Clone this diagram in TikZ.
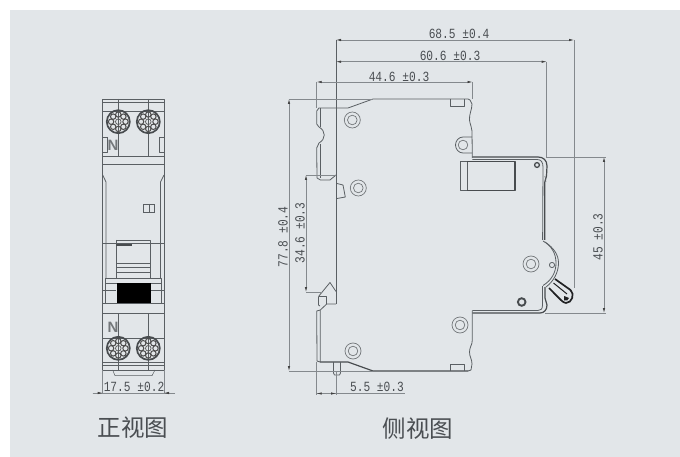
\documentclass[tikz,border=0pt]{standalone}
\usepackage{fontspec}
\usetikzlibrary{arrows.meta}
\newfontfamily\dimf[FakeStretch=0.8]{Liberation Mono}
\definecolor{bgc}{HTML}{E2E6E9}
\definecolor{ink}{HTML}{5A5F63}
\definecolor{dimc}{HTML}{84898D}
\definecolor{txtc}{HTML}{4A4E52}
\tikzset{
 part/.style={draw=ink,line width=0.8pt,line join=round},
 heavy/.style={draw=ink!80!black,line width=1.2pt,line join=round},
 thinp/.style={draw=ink,line width=0.5pt},
 dimline/.style={draw=dimc,line width=0.6pt},
 dimarrow/.style={draw=dimc,line width=0.6pt,{Latex[length=5pt,width=2.4pt,color=black!75]}-{Latex[length=5pt,width=2.4pt,color=black!75]}},
 dimtext/.style={font=\dimf\fontsize{14}{14}\selectfont,text=txtc,inner sep=0pt},
 capt/.style={font=\fontspec{Noto Sans CJK SC}\fontsize{23.5}{24}\selectfont,text=txtc,inner sep=0pt},
 ring/.style={draw=ink!85,line width=0.7pt},
 screw/.pic={
   \draw[draw=ink!80!black,line width=1.7pt] (0,0) circle[radius=11.5];
   \foreach \a in {0,45,...,315}{\draw[draw=black!70,line width=1pt] (\a:7.2) circle[radius=2.7];}
   \draw[draw=black!65,line width=0.7pt] (0,0) circle[radius=2.8];
 },
 boss/.pic={
   \draw[ring] (0,0) circle[radius=8];
   \draw[ring] (0,0) circle[radius=4.8];
 }
}
\begin{document}
\begin{tikzpicture}[x=1pt,y=-1pt]
\useasboundingbox (0,0) rectangle (680,457);
\fill[white] (0,0) rectangle (680,457);
\fill[bgc] (10,10) rectangle (680,457);

% ---------- front view ----------
\draw[part] (102.7,99) rectangle (164,370);
\draw[thinp] (102.7,102.7) -- (164,102.7);
\draw[part] (102.7,111.7) -- (164,111.7);
\draw[part] (102.7,156.7) -- (164,156.7);
\draw[part] (102.7,164) -- (164,164);
\draw[part] (118.3,99) -- (118.3,157);
\draw[part] (148.3,99) -- (148.3,157);
\draw[part] (107.5,137) -- (103,137) (107.5,137) -- (107.5,152) -- (103,152);
\draw[part] (159,137) -- (164,137) (159,137) -- (159,152) -- (164,152);
\draw[part] (102.7,175) -- (106,182) -- (106,278);
\draw[part] (164,175) -- (160.5,182) -- (160.5,278);
\draw[thinp] (143.5,204) rectangle (154.5,212);
\draw[thinp] (149,204) -- (149,212);
\draw[thinp] (102.7,243) -- (164,243);
\draw[part] (116,240) -- (150.7,240) -- (150.7,278);
\draw[part] (116,240) -- (116,278);
\draw[heavy] (116,245) -- (132,245);
\draw[part] (116,263) -- (150.7,263);
\draw[part] (116,267) -- (150.7,267);
\draw[part] (116,272) -- (150.7,272);
\draw[part] (116,278) -- (150.7,278);
\draw[part] (105.5,278) rectangle (161.5,283);
\draw[part] (105.5,283) -- (105.5,303) (161.5,283) -- (161.5,303);
\draw[part] (102.7,290) -- (116,290) (150.7,290) -- (164,290);
\fill[black] (116.7,283) rectangle (150.7,303);
\draw[part] (102.7,303) -- (164,303);
\draw[part] (102.7,313.5) -- (164,313.5);
\draw[part] (118.3,313.5) -- (118.3,370);
\draw[part] (148.3,313.5) -- (148.3,370);
\draw[part] (102.7,338) -- (164,338);
\draw[part] (102.7,362) -- (164,362);
\draw[thinp] (102.7,365) -- (164,365);
\draw[thinp] (112.7,370) -- (115,375.7) -- (152,375.7) -- (155,370);
\pic at (118.3,121.7) {screw};
\pic at (148.3,121.7) {screw};
\pic at (118.3,348.3) {screw};
\pic at (148.3,348.3) {screw};
\node[name=nTop,font=\fontspec{Liberation Sans}\bfseries\fontsize{15}{15}\selectfont,text=ink!85,inner sep=0pt] at (113,145) {N};
\node[name=nBot,font=\fontspec{Liberation Sans}\bfseries\fontsize{15}{15}\selectfont,text=ink!85,inner sep=0pt] at (113,327) {N};
% front dimension
\coordinate (fL) at (102.7,393);
\coordinate (fR) at (164,393);
\draw[dimline] (102.7,370) -- (fL) (164,370) -- (fR);
\draw[dimline] (92.5,393) -- (175,393);
\draw[dimline,-{Latex[length=5pt,width=2.4pt,color=black!75]}] (92.5,393) -- (fL);
\draw[dimline,-{Latex[length=5pt,width=2.4pt,color=black!75]}] (175,393) -- (fR);
\node[dimtext,name=d175] at (134,387) {17.5 ±0.2};
\node[capt,name=capFront] at (133,428) {正视图};

% ---------- side view outline ----------
\draw[part] (336,40) -- (336,304);
% top-left and top
\draw[part] (317,178) -- (316.7,148) -- (319,143) .. controls (326,139) and (326,131) .. (319,127) -- (316.7,124) -- (316.7,111) -- (319,108) -- (348,108) -- (373,99) -- (468,99) -- (470,100) -- (472,104) .. controls (472,110) and (469,114) .. (469.5,120) .. controls (470,125) and (472,127) .. (472,131) -- (472.3,158);
\draw[thinp] (320.3,108) -- (320.3,127) (320.3,144) -- (320.3,178);
\draw[part] (317,178) -- (320.5,180) -- (330,180) -- (336,175);
\draw[part] (450,99) -- (450,106.5) -- (464,106.5) -- (464,99);
% bump
\draw[part] (337,183.5) -- (343,185) -- (345.3,197) -- (337,198.5);
% top of the raised step and handle side
\draw[heavy] (472.3,157) -- (538,157) .. controls (543,157) and (547,160) .. (547,166) -- (546.5,176) -- (544.8,182) -- (544.8,240);
\draw[part] (472.3,159.5) -- (537,159.5) .. controls (541,159.5) and (543,162) .. (543,167) -- (542.6,240);
\draw[thinp] (544.8,176) -- (546,182);
% arc
\draw[part] (543,241) .. controls (552,246) and (556,254) .. (556,263) .. controls (556,272) and (552,280) .. (543,285.5);
\draw[part] (545,242) .. controls (554,248) and (558.5,255) .. (558.5,263) .. controls (558.5,272) and (554,281) .. (546,287);
% lower handle side
\draw[part] (542.5,286) -- (542.5,305) .. controls (542.5,309) and (541,310.5) .. (538,310.5) -- (472.3,310.5);
\draw[heavy] (545,287) -- (545,298) -- (547,305) .. controls (547,310) and (544,313) .. (540,313) -- (472.3,313);
% lower right and bottom
\draw[part] (472.3,310.5) -- (472.3,340) .. controls (472.3,345) and (469.5,347) .. (469.5,352) .. controls (469.5,357) and (472,359) .. (472,364) -- (471,370) -- (468,371);
\draw[heavy] (468,371) -- (373,371) -- (348,362) -- (320,362);
\draw[part] (320,362) -- (317,361) -- (316.7,311) -- (320.3,310) (320.3,362) -- (320.3,310);
\draw[part] (450,371) -- (450,364.5) -- (464,364.5) -- (464,371);
% latch
\draw[part] (318.5,296.5) -- (330,282.5) -- (336,291.5);
\draw[part] (318.5,296.5) -- (318.5,305) -- (320,306);
\draw[part] (320.3,310) -- (326.7,304) -- (336,304);
\draw[part] (318.5,296.5) -- (326.7,296.5) -- (326.7,304);
% handle
\draw[draw=ink!35!black,line width=1.7pt,line join=round] (555,279) -- (570.5,290) .. controls (575,294) and (572,303) .. (566,303) .. controls (563,303) and (560,299) .. (549,288);
\draw[draw=ink!35!black,line width=1pt] (553.5,283) -- (567,294);
\fill[ink!35!black] (564,296) -- (569,298) .. controls (569,300) and (566,301.5) .. (564,300.5) -- cycle;
% pin
\draw[part] (333.5,362) -- (333.5,373) -- (334.5,375) -- (339.5,375) -- (340.5,373) -- (340.5,362);
% bosses
\pic at (352.3,120) {boss};
\pic at (358.3,188) {boss};
\pic at (460,325) {boss};
\pic at (353,351) {boss};
\pic at (531,264) {boss};
\draw[part] (472,137) -- (463,137) .. controls (458.5,137) and (455.5,141) .. (455.5,145) .. controls (455.5,149) and (458.5,153) .. (463,153) -- (472,153);
\draw[ring] (463,145) circle[radius=4.8];
\draw[part] (552,265) circle[radius=2.6];
\draw[draw=ink!80!black,line width=1.9pt] (521.7,302) circle[radius=3.8];
\draw[draw=ink!80!black,line width=1.3pt] (537,165) circle[radius=2.4];
% switch rectangle
\draw[part] (460.7,161.7) rectangle (467,190.7);
\draw[thinp] (467,161.7) -- (467,190.7);
\draw[heavy] (467,161.7) -- (515,161.7) -- (515,190.7) -- (467,190.7);

% ---------- side dimensions ----------
\coordinate (a685) at (336,40);
\coordinate (b685) at (574,40);
\draw[dimarrow] (a685) -- (b685);
\draw[dimline] (b685) -- (574,288);
\node[dimtext,name=d685] at (459,34) {68.5 ±0.4};
\coordinate (a606) at (336,61.7);
\coordinate (b606) at (546.7,61.7);
\draw[dimarrow] (a606) -- (b606);
\draw[dimline] (b606) -- (546.7,158);
\node[dimtext,name=d606] at (450,56) {60.6 ±0.3};
\coordinate (a446) at (316.7,82);
\coordinate (b446) at (472.5,82);
\draw[dimarrow] (a446) -- (b446);
\draw[dimline] (a446) -- (316.7,108) (b446) -- (472.5,99);
\node[dimtext,name=d446] at (399,77) {44.6 ±0.3};
\coordinate (a778) at (289,99);
\coordinate (b778) at (289,371);
\draw[dimarrow] (a778) -- (b778);
\draw[dimline] (a778) -- (373,99) (b778) -- (373,371);
\node[dimtext,name=d778,rotate=90] at (283,237) {77.8 ±0.4};
\coordinate (a346) at (306,175);
\coordinate (b346) at (306,292);
\draw[dimarrow] (a346) -- (b346);
\draw[dimline] (a346) -- (336,175) (b346) -- (322,292);
\node[dimtext,name=d346,rotate=90] at (300,233) {34.6 ±0.3};
\coordinate (a45) at (604,157);
\coordinate (b45) at (604,313);
\draw[dimarrow] (a45) -- (b45);
\draw[dimline] (547,157) -- (606,157) (545,313) -- (606,313);
\node[dimtext,name=d45,rotate=90] at (598,237) {45 ±0.3};
\coordinate (a55) at (316.7,393.5);
\coordinate (b55) at (336,393.5);
\draw[dimline] (a55) -- (405,393.5);
\draw[dimarrow] (a55) -- (b55);
\draw[dimline] (316.7,362) -- (316.7,395) (336,371) -- (336,395);
\node[dimtext,name=d55] at (377,387) {5.5 ±0.3};
\node[capt,name=capSide] at (418,429) {侧视图};
\end{tikzpicture}
\end{document}
